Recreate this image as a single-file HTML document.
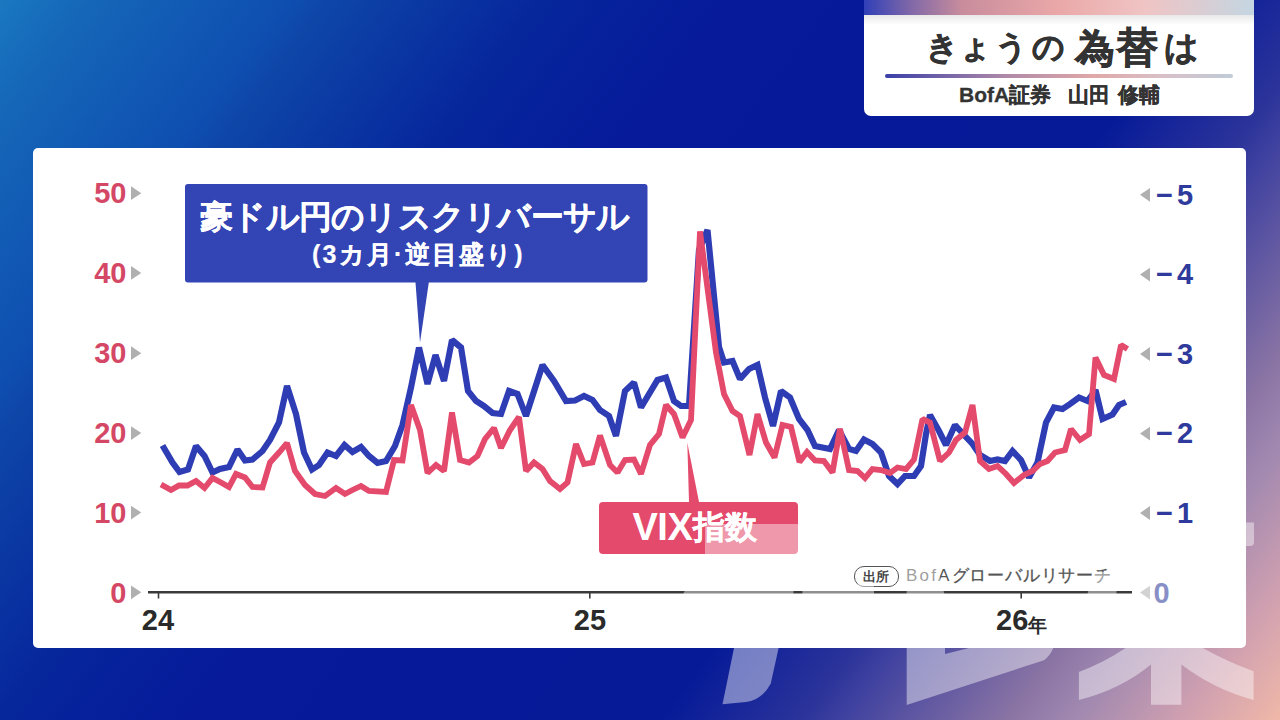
<!DOCTYPE html>
<html lang="ja">
<head>
<meta charset="utf-8">
<style>
html,body{margin:0;padding:0;}
body{width:1280px;height:720px;overflow:hidden;position:relative;font-family:"Liberation Sans",sans-serif;
background:linear-gradient(127deg,#1a78c0 0%,#1566b8 5%,#0e4eb0 16%,#0e46a8 18%,#06269c 30%,#061a9a 40%,#061a98 66%,#2c349a 73.8%,#4042a0 76%,#8a74a4 85%,#a088b0 88.5%,#d0a0b0 94.6%,#f0b8a8 100%);}
.abs{position:absolute;white-space:nowrap;}
#card{position:absolute;left:864px;top:0;width:390px;height:116px;background:#fff;border-radius:0 0 7px 7px;overflow:hidden;}
#card .strip{position:absolute;left:0;top:0;width:100%;height:15px;background:linear-gradient(90deg,#3040b8 0%,#8068a8 12%,#c88c9c 25%,#eaa8a8 50%,#f0c4c4 72%,#c4d6e2 100%);}
#card .shadow{position:absolute;left:0;top:15px;width:100%;height:10px;background:linear-gradient(#e8e8e8,#fff);}
#card .uline{position:absolute;left:21px;top:74px;width:348px;height:3.5px;border-radius:2px;background:linear-gradient(90deg,#3a40a8 0%,#b08aa8 35%,#e0a8a8 60%,#d8c0c8 80%,#c0ccd8 100%);}
#panel{position:absolute;left:33px;top:148px;width:1213px;height:500px;background:#fff;border-radius:5px;}
svg{position:absolute;left:0;top:0;}
.sb{color:#333;font-weight:bold;font-size:21px;line-height:24px;-webkit-text-stroke:0.3px #333;}
.ll{left:60px;width:66.5px;text-align:right;color:#d44866;font-weight:bold;font-size:29px;line-height:30px;}
.rl{left:1156px;color:#2e3a9c;font-weight:bold;font-size:29px;line-height:30px;letter-spacing:4px;}
.tt{color:#333;font-weight:bold;line-height:1;-webkit-text-stroke:0.6px #333;}
</style>
</head>
<body>
<div id="card">
  <div class="strip"></div>
  <div class="shadow"></div>
  <div class="uline"></div>
  <div class="abs tt" style="left:62px;top:31px;font-size:32px;">き</div>
  <div class="abs tt" style="left:95px;top:31px;font-size:32px;">ょ</div>
  <div class="abs tt" style="left:131px;top:31px;font-size:32px;">う</div>
  <div class="abs tt" style="left:168px;top:31px;font-size:32px;">の</div>
  <div class="abs tt" style="left:211px;top:28px;font-size:40px;">為</div>
  <div class="abs tt" style="left:252px;top:27px;font-size:42px;">替</div>
  <div class="abs tt" style="left:300px;top:30px;font-size:34px;">は</div>
  <div class="abs sb" style="left:95px;top:83px;">BofA証券</div>
  <div class="abs sb" style="left:204px;top:83px;">山田</div>
  <div class="abs sb" style="left:254px;top:83px;">修輔</div>
</div>
<div id="panel"></div>
<svg width="1280" height="720" viewBox="0 0 1280 720">
  <!-- axis -->
  <line x1="148" y1="592.3" x2="1132" y2="592.3" stroke="#3a3a3a" stroke-width="2.5"/>
  <line x1="158.5" y1="592" x2="158.5" y2="598.5" stroke="#3a3a3a" stroke-width="1.6"/>
  <line x1="589.8" y1="592" x2="589.8" y2="598.5" stroke="#3a3a3a" stroke-width="1.6"/>
  <line x1="1021.2" y1="592" x2="1021.2" y2="598.5" stroke="#3a3a3a" stroke-width="1.6"/>
  <g fill="#b0b0b0">
  <path d="M131 186.30 L141.3 193.20 L131 200.10 Z"/>
  <path d="M131 266.00 L141.3 272.90 L131 279.80 Z"/>
  <path d="M131 346.30 L141.3 353.20 L131 360.10 Z"/>
  <path d="M131 426.20 L141.3 433.10 L131 440.00 Z"/>
  <path d="M131 505.70 L141.3 512.60 L131 519.50 Z"/>
  <path d="M131 585.40 L141.3 592.30 L131 599.20 Z"/>
  <path d="M1150 187.90 L1140 194.80 L1150 201.70 Z"/>
  <path d="M1150 267.70 L1140 274.60 L1150 281.50 Z"/>
  <path d="M1150 347.10 L1140 354.00 L1150 360.90 Z"/>
  <path d="M1150 426.70 L1140 433.60 L1150 440.50 Z"/>
  <path d="M1150 506.10 L1140 513.00 L1150 519.90 Z"/>
  <path d="M1150 585.70 L1140 592.60 L1150 599.50 Z"/>
  </g>
  <!-- callout -->
  <path d="M188 184 H644.5 Q647.5 184 647.5 187 V279.5 Q647.5 282.5 644.5 282.5 H428.8 L420 342.5 L415.5 282.5 H188 Q185 282.5 185 279.5 V187 Q185 184 188 184 Z" fill="#3344b4"/>
  <!-- vix box -->
  <path d="M603 502 H794 Q798 502 798 506 V550 Q798 554 794 554 H603 Q599 554 599 550 V506 Q599 502 603 502 Z M689 502 L687.3 442.4 L699 502 Z" fill="#e44a6c"/>
  <polyline points="162.5,445.5 172.5,462.5 179.5,472 188,469.5 196,446 204.5,456 212.5,472.5 220,469 229,467 237.5,449.5 245,460.5 252.5,459.5 262.5,451 270,440 279,422.5 287,386 296,414 304,452.5 312,469.5 319,465 327.5,452.5 336,456 344.5,445 352.5,452 361,447 369,456 377.5,463 386,461 395,446 402.5,425 411,387.5 419,347.5 427.5,384 435.5,355 444,381 452,340 461,347.5 468,391 476,401 484,406 492.5,413 501,414 509,391 517.5,394 526,416 542.5,365 554,381 566,401 575,400.5 584,396 592.5,400 600,410 609,416 616,436 625,391 634,382.5 641,407.5 657.5,380 666,377.5 674,401 681,406 689,406 699,250 707.5,230 719,347 724,362.5 732.5,361 740,379 749,369 757.5,365 765,397.5 773,426 781,391 790,397.5 799,419 807.5,430 815,446 830,449 839,430 849,449 856,451 864,439.5 872.5,444 881,452.5 889,476 897.5,484 905,476 914,476 921,466 926,434 930,415 939,431 946,445 955,425 965,436 972.5,444 980,455 990,461 997.5,459.5 1005,461 1012.5,451 1021,460 1029,477.5 1037.5,462.5 1046,422.5 1054,407.5 1062.5,409 1070,404 1079,397.5 1087.5,401 1095.5,390 1102.5,419 1112.5,414.5 1119,405 1126,402" fill="none" stroke="#2e3db4" stroke-width="6.2" stroke-linejoin="miter" stroke-miterlimit="1.6" stroke-linecap="butt"/>
  <polyline points="161,484.5 171,490 179,485.5 187.5,485.5 196,481 204.5,488 212.5,478 221,482.5 229,487 236,474 245,477.5 252.5,487 262.5,487.5 270,462.5 279,452.5 287,443 295,471 305,485 315,494 325,496 336,488 345,494 352.5,490 361,486 369,491 386,492 394,460 402.5,460.5 411,405 420,430 427.5,473 436,465 444,471 452,412.5 460,460 469,462.5 477.5,456 485,439 494,428 501,448 510,430 519,417 526,471 534,462.5 542.5,469 550,481 560,489 567.5,482.5 576,444 584,464 592.5,462.5 600,435.5 610,465 617.5,472.5 625,460 634,459.5 641,474 650,445 659,434 666,405 674,414 682.5,437.5 691,420 700,231.5 716,352.5 724,394 732.5,411 740,416 749.5,455 757.5,414 766,442.5 774.5,457.5 782.5,425 791,427 799.5,462 807,452 815,460.5 824,461 832.5,472.5 840,428.75 849,470 857.5,471 865,478 872.5,469 881,470 890,473 897.5,467.5 906,469 914,459.5 922.5,419 930,422.5 940,461 949,452.5 956,440 965,432.5 972.5,405 980,461 989,469 997.5,466 1006,474 1014,483 1024,475 1032.5,471 1040,464 1047.5,461 1055,452.5 1065,450 1071,429 1080,440 1089,434 1095.5,357.5 1104,375 1114,379 1121,345 1127.5,349" fill="none" stroke="#e44a6c" stroke-width="5.8" stroke-linejoin="miter" stroke-miterlimit="1.6" stroke-linecap="butt"/>
</svg>
<div class="abs ll" style="top:178.00px">50</div>
<div class="abs ll" style="top:257.95px">40</div>
<div class="abs ll" style="top:337.90px">30</div>
<div class="abs ll" style="top:417.80px">20</div>
<div class="abs ll" style="top:497.80px">10</div>
<div class="abs ll" style="top:577.75px">0</div>
<div class="abs rl" style="top:179.80px">−5</div>
<div class="abs rl" style="top:259.30px">−4</div>
<div class="abs rl" style="top:338.80px">−3</div>
<div class="abs rl" style="top:418.30px">−2</div>
<div class="abs rl" style="top:497.80px">−1</div>
<div class="abs rl" style="left:1153.5px;top:577.80px">0</div>
<!-- x labels -->
<div class="abs" style="left:128px;top:605px;width:60px;text-align:center;color:#2a2a2a;font-weight:bold;font-size:29px;line-height:30px;">24</div>
<div class="abs" style="left:560px;top:605px;width:60px;text-align:center;color:#2a2a2a;font-weight:bold;font-size:29px;line-height:30px;">25</div>
<div class="abs" style="left:996px;top:605px;color:#2a2a2a;font-weight:bold;font-size:29px;line-height:30px;">26<span style="font-size:19px;position:relative;top:2px">年</span></div>
<!-- callout text -->
<div class="abs" style="left:200px;top:197px;color:#fff;font-weight:bold;font-size:32.5px;line-height:40px;letter-spacing:-0.75px;-webkit-text-stroke:0.2px #fff;">豪ドル円のリスクリバーサル</div>
<div class="abs" style="left:312px;top:239px;color:#fff;font-weight:bold;font-size:25px;line-height:30px;letter-spacing:2.2px;-webkit-text-stroke:0.2px #fff;">(3カ月·逆目盛り)</div>
<div class="abs" style="left:632.5px;top:507px;color:#fff;font-weight:bold;font-size:38px;line-height:40px;letter-spacing:-0.5px">VIX</div><div class="abs" style="left:693px;top:507px;color:#fff;font-weight:bold;font-size:32px;line-height:40px;-webkit-text-stroke:0.3px #fff;">指数</div>
<!-- source -->
<div class="abs" style="left:854px;top:566px;width:42.6px;height:19.4px;border:1.5px solid #555;border-radius:10px;"></div>
<div class="abs" style="left:863px;top:569px;color:#444;font-size:13px;line-height:16px;font-weight:bold;letter-spacing:-0.5px">出所</div>
<div class="abs" style="left:906px;top:566px;color:#555;font-size:17px;line-height:20px;letter-spacing:2.2px;">BofA<span style="letter-spacing:0.8px;-webkit-text-stroke:0.3px #555">グローバルリサーチ</span></div>
<svg width="1280" height="720" viewBox="0 0 1280 720" style="pointer-events:none">
  <g fill="#fff" fill-opacity="0.43">
    <path d="M705 524 H798 V554 L793 596 H682 L705 554 Z"/>
    <path d="M802.4 584 H874 V596 H802.4 Z"/>
    <path d="M734 648 H778.6 L770.8 683.4 Q762 700 746 702 L722.5 704.2 Z"/>
    <path d="M906.6 568 H937.5 L946 600 H906.6 Z"/>
    <path d="M906.7 648 H945 V654 L969 648 H1053.3 Q1050 656 1044 660.2 L906.7 705 Z"/>
    <path d="M1093 572 H1118 L1116 600 H1086 Z"/>
    <path d="M1140 578 H1181 V648 H1140 Z"/>
    <path d="M1125.6 648 Q1105 662 1078.9 672 V700 Q1120 690 1151 664.6 V704.8 H1181.4 V664.6 Q1215 690 1253.6 700 V671.2 Q1228 662 1202.7 648 Z"/>
    <path d="M1246 522.5 H1254 V542 Q1254 546 1250 546 H1246 Z"/>
  </g>
</svg>
</body>
</html>
